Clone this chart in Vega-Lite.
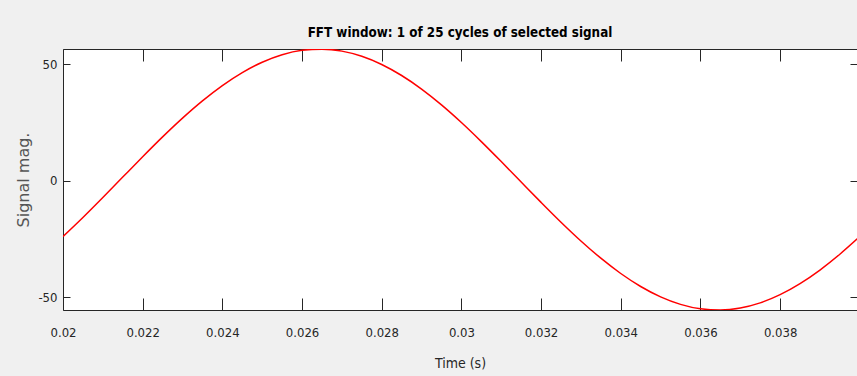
{
  "$schema": "https://vega.github.io/schema/vega-lite/v6.json",
  "width": 794,
  "height": 261,
  "autosize": {"type": "none"},
  "padding": {"left": 63, "top": 49, "right": 0, "bottom": 66},
  "background": "#f0f0f0",
  "config": {
    "view": {"fill": "white", "stroke": "#262626", "strokeWidth": 1},
    "font": "DejaVu Sans Condensed, Liberation Sans, sans-serif"
  },
  "title": {
    "text": "FFT window: 1 of 25 cycles of selected signal",
    "font": "DejaVu Sans Condensed, Liberation Sans, sans-serif",
    "fontSize": 13.3,
    "fontWeight": "bold",
    "color": "#000000",
    "offset": 9,
    "anchor": "middle"
  },
  "data": {
    "values": [
      {"t": 0.0200, "v": -23.88}, {"t": 0.0205, "v": -15.70}, {"t": 0.0210, "v": -7.12},
      {"t": 0.0215, "v": 1.66}, {"t": 0.0220, "v": 10.40}, {"t": 0.0225, "v": 18.91},
      {"t": 0.0230, "v": 26.96}, {"t": 0.0235, "v": 34.36}, {"t": 0.0240, "v": 40.93},
      {"t": 0.0245, "v": 46.51}, {"t": 0.0250, "v": 50.97}, {"t": 0.0255, "v": 54.18},
      {"t": 0.0260, "v": 56.07}, {"t": 0.0265, "v": 56.59}, {"t": 0.0270, "v": 55.74},
      {"t": 0.0275, "v": 53.53}, {"t": 0.0280, "v": 50.01}, {"t": 0.0285, "v": 45.27},
      {"t": 0.0290, "v": 39.44}, {"t": 0.0295, "v": 32.65}, {"t": 0.0300, "v": 25.08},
      {"t": 0.0305, "v": 16.90}, {"t": 0.0310, "v": 8.32}, {"t": 0.0315, "v": -0.46},
      {"t": 0.0320, "v": -9.20}, {"t": 0.0325, "v": -17.71}, {"t": 0.0330, "v": -25.76},
      {"t": 0.0335, "v": -33.16}, {"t": 0.0340, "v": -39.73}, {"t": 0.0345, "v": -45.31},
      {"t": 0.0350, "v": -49.77}, {"t": 0.0355, "v": -52.98}, {"t": 0.0360, "v": -54.87},
      {"t": 0.0365, "v": -55.39}, {"t": 0.0370, "v": -54.54}, {"t": 0.0375, "v": -52.33},
      {"t": 0.0380, "v": -48.81}, {"t": 0.0385, "v": -44.07}, {"t": 0.0390, "v": -38.24},
      {"t": 0.0395, "v": -31.45}, {"t": 0.0400, "v": -23.88}
    ]
  },
  "layer": [
    {
      "mark": {"type": "line", "color": "#ff0000", "strokeWidth": 1.5, "interpolate": "monotone", "clip": true},
      "encoding": {
        "x": {
          "field": "t", "type": "quantitative",
          "scale": {"domain": [0.02, 0.03993], "nice": false, "zero": false},
          "axis": {
            "orient": "bottom",
            "values": [0.02, 0.022, 0.024, 0.026, 0.028, 0.03, 0.032, 0.034, 0.036, 0.038],
            "format": ".3~f",
            "title": "Time (s)",
            "domain": false,
            "grid": false,
            "tickSize": -12,
            "tickColor": "#262626",
            "labelFont": "DejaVu Sans Condensed, Liberation Sans, sans-serif",
            "labelFontSize": 13,
            "labelColor": "#262626",
            "labelPadding": 28,
            "labelFlush": false,
            "titleFont": "DejaVu Sans Condensed, Liberation Sans, sans-serif",
            "titleFontSize": 14,
            "titleFontWeight": "normal",
            "titleColor": "#262626",
            "titlePadding": 17
          }
        },
        "y": {
          "field": "v", "type": "quantitative",
          "scale": {"domain": [-55.4, 56.65], "nice": false, "zero": false},
          "axis": {
            "orient": "left",
            "values": [-50, 0, 50],
            "labelExpr": "datum.value < 0 ? '-' + abs(datum.value) : '' + datum.value",
            "title": "Signal mag.",
            "domain": false,
            "grid": false,
            "tickSize": -7,
            "tickColor": "#262626",
            "labelFont": "DejaVu Sans Condensed, Liberation Sans, sans-serif",
            "labelFontSize": 13,
            "labelColor": "#262626",
            "labelPadding": 13,
            "titleFont": "DejaVu Sans",
            "titleFontSize": 16,
            "titleFontWeight": "normal",
            "titleColor": "#555555",
            "titlePadding": 6
          }
        }
      }
    },
    {
      "mark": {"type": "line", "opacity": 0},
      "encoding": {
        "x": {
          "field": "t", "type": "quantitative",
          "axis": {
            "orient": "top",
            "values": [0.02, 0.022, 0.024, 0.026, 0.028, 0.03, 0.032, 0.034, 0.036, 0.038],
            "labels": false, "title": null, "domain": false, "grid": false,
            "tickSize": -12, "tickColor": "#262626"
          }
        },
        "y": {
          "field": "v", "type": "quantitative",
          "axis": {
            "orient": "right",
            "values": [-50, 0, 50],
            "labels": false, "title": null, "domain": false, "grid": false,
            "tickSize": -7, "tickColor": "#262626"
          }
        }
      }
    }
  ],
  "resolve": {"axis": {"x": "independent", "y": "independent"}}
}
